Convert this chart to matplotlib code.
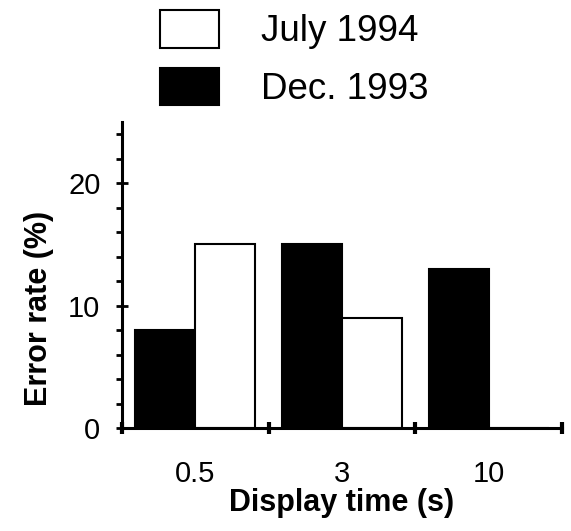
import matplotlib
matplotlib.use("Agg")
import matplotlib.pyplot as plt
import numpy as np

plt.rcParams['font.family'] = ['Liberation Sans', 'DejaVu Sans']

display_times = ["0.5", "3", "10"]
july_1994 = [15, 9, 0]
dec_1993 = [8, 15, 13]

W, H = 571, 531
fig = plt.figure(figsize=(W / 100, H / 100), dpi=100)
ax = fig.add_axes([122 / W, 1 - 428 / H, (562 - 122) / W, (428 - 122) / H])

x = np.arange(len(display_times))
width = 0.41
b_dec = ax.bar(x - width / 2, dec_1993, width, color="black", edgecolor="black",
               linewidth=1.5, label="Dec. 1993", zorder=2)
b_jul = ax.bar(x + width / 2, july_1994, width, color="white", edgecolor="black",
               linewidth=1.5, label="July 1994", zorder=2)

ax.set_xlim(-0.5, len(display_times) - 0.5)
ax.set_ylim(0, 25)

for s in ["top", "right"]:
    ax.spines[s].set_visible(False)
for s in ["left", "bottom"]:
    ax.spines[s].set_linewidth(2.2)
    ax.spines[s].set_zorder(3)

# y ticks
ax.set_yticks([0, 10, 20])
ax.set_yticks(np.arange(2, 25, 2), minor=True)
ax.tick_params(axis="y", which="major", direction="inout", length=9, width=2,
               labelsize=21, pad=11)
ax.tick_params(axis="y", which="minor", direction="out", length=4, width=2)

# x ticks: marks at group boundaries, labels at centres
ax.set_xticks(np.arange(-0.5, len(display_times), 1.0))
ax.set_xticklabels([])
ax.set_xticks(x, display_times, minor=True)
ax.tick_params(axis="x", which="major", direction="inout", length=8, width=3)
ax.tick_params(axis="x", which="minor", length=0, labelsize=21, pad=23)

ax.set_ylabel("Error rate (%)", fontsize=22, fontweight="bold")
ax.yaxis.set_label_coords(-0.155, 0.39)
ax.set_xlabel("Display time (s)", fontsize=22, fontweight="bold", labelpad=0)

fig.legend(handles=[b_jul, b_dec], labels=["July 1994", "Dec. 1993"],
           loc="upper left", bbox_to_anchor=(160 / W, 1 - 10 / H),
           frameon=False, fontsize=26.5, handlelength=1.6, handleheight=1.2,
           handletextpad=1.15, labelspacing=0.5, borderpad=0, borderaxespad=0)

fig.savefig("out.png", dpi=100)
